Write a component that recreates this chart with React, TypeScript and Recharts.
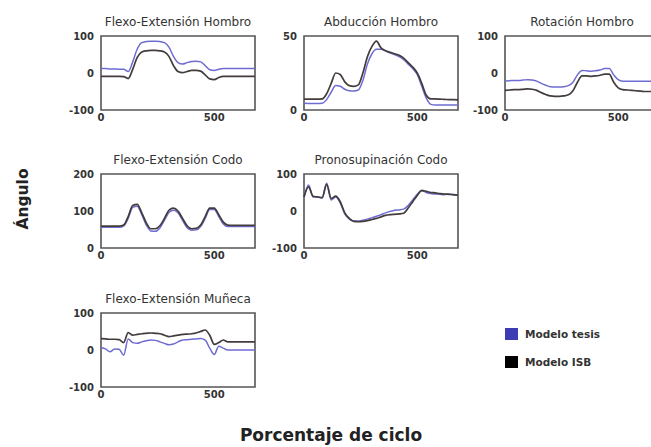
import { LineChart, Line, XAxis, YAxis, ReferenceArea } from 'recharts';

// percent-of-cycle samples shared by every panel
const cycle = [
  0, 20, 40, 60, 80, 100, 120, 140, 160, 180, 200, 220, 240, 260, 280, 300, 320, 340,
  360, 380, 400, 420, 440, 460, 480, 500, 520, 540, 560, 580, 600, 620, 640, 660, 680,
];
const xTicks = [0, 500];

const hombroFlexTesis = [12, 12, 11, 11, 10, 10, 4, 30, 65, 82, 85, 86, 86, 85, 82, 70, 45, 28, 24, 28, 31, 32, 30, 20, 9, 7, 10, 12, 12, 12, 12, 12, 12, 12, 12];
const hombroFlexIsb = [-9, -9, -9, -9, -9, -10, -15, 10, 42, 57, 60, 61, 61, 60, 57, 45, 20, 4, 1, 4, 7, 7, 5, -5, -16, -18, -12, -9, -9, -9, -9, -9, -9, -9, -9];

const abduccionTesis = [4.5, 4.4, 4.4, 4.4, 4.6, 7, 12, 16.5, 16, 14, 13, 12.8, 13.5, 20, 31, 38, 41, 41, 40, 38.5, 37.5, 36, 34, 31, 28, 24, 16, 8, 3.8, 3.4, 3.4, 3.3, 3.3, 3.3, 3.3];
const abduccionIsb = [7.3, 7.3, 7.3, 7.3, 7.5, 11, 18, 25, 24, 19, 16.5, 16, 17, 25, 36, 43, 46.5, 42, 40, 39, 38, 37, 35, 32, 29, 25, 18, 10, 7.5, 7.5, 7.3, 7.2, 7, 7, 6.8];

const rotacionTesis = [-22, -21, -20, -20, -19, -18, -19, -22, -28, -33, -37, -38, -38, -37, -34, -25, -5, 7, 6, 5, 6, 8, 12, 12, -5, -18, -22, -22, -22, -22, -22, -22, -22, -22, -22];
const rotacionIsb = [-47, -46, -45, -45, -44, -43, -44, -47, -53, -58, -62, -63, -63, -62, -59, -48, -25, -8, -8, -9, -8, -6, -3, -3, -25, -40, -45, -46, -47, -48, -49, -50, -50, -50, -50];

const codoFlexTesis = [56, 56, 56, 56, 56, 59, 80, 110, 113, 90, 62, 46, 45, 54, 75, 96, 102, 95, 75, 55, 48, 49, 58, 80, 104, 104, 85, 65, 58, 58, 58, 58, 58, 58, 58];
const codoFlexIsb = [59, 59, 59, 59, 59, 62, 85, 115, 118, 95, 68, 52, 52, 60, 80, 102, 108, 100, 80, 60, 52, 53, 62, 85, 108, 108, 90, 70, 62, 61, 61, 61, 61, 61, 61];

const pronoTesis = [36, 70, 38, 38, 35, 75, 30, 38, 22, -8, -22, -27, -27, -25, -22, -18, -14, -10, -5, -1, 2, 3, 5, 15, 30, 45, 55, 50, 47, 46, 45, 44, 46, 44, 42];
const pronoIsb = [38, 65, 40, 38, 36, 72, 34, 40, 25, -5, -20, -28, -29, -28, -26, -23, -20, -16, -12, -10, -9, -8, -6, 8, 25, 42, 56, 53, 50, 49, 47, 46, 45, 44, 43];

const munecaTesis = [7, 3, -5, 3, 2, -14, 30, 20, 18, 22, 25, 27, 26, 22, 18, 14, 16, 22, 27, 28, 29, 30, 31, 27, 5, -12, 10, 5, 0, 0, 0, 0, 0, 0, 0];
const munecaIsb = [31, 30, 29, 29, 28, 20, 47, 40, 42, 44, 45, 46, 45, 44, 40, 36, 38, 40, 42, 43, 44, 46, 50, 54, 40, 15, 20, 27, 22, 22, 22, 22, 22, 22, 22];

const BOX_W = 154;
const BOX_H = 74;
const PAD_L = 40;
const PAD_T = 24;
const FONT = '"DejaVu Sans", sans-serif';
const TESIS = '#6e6cd2';
const ISB = '#443c3c';

interface PanelProps {
  title: string;
  left: number;
  top: number;
  tesis: number[];
  isb: number[];
  yDomain: [number, number];
  yTicks: number[];
}

function Panel({ title, left, top, tesis, isb, yDomain, yTicks }: PanelProps) {
  const data = cycle.map((x, i) => ({ x, tesis: tesis[i], isb: isb[i] }));
  const tick = { fontSize: 10, fontWeight: 700, fill: '#333', fontFamily: FONT };
  return (
    <div style={{ position: 'absolute', left: left - PAD_L, top: top - PAD_T }}>
      <div
        style={{
          position: 'absolute', left: PAD_L, top: 2, width: BOX_W, textAlign: 'center',
          fontFamily: FONT, fontSize: 12, color: '#333', whiteSpace: 'nowrap', lineHeight: '16px',
        }}
      >
        {title}
      </div>
      <LineChart
        width={BOX_W + PAD_L + 10}
        height={BOX_H + PAD_T + 20}
        data={data}
        margin={{ top: PAD_T, right: 10, bottom: 0, left: 10 }}
      >
        <XAxis
          dataKey="x" type="number" domain={[0, 680]} ticks={xTicks} height={20}
          axisLine={false} tickLine={false} tickSize={0} tickMargin={4} tick={tick}
        />
        <YAxis
          type="number" domain={yDomain} ticks={yTicks} width={30} allowDataOverflow
          axisLine={false} tickLine={false} tickSize={0} tickMargin={7} tick={tick}
        />
        <ReferenceArea
          x1={0} x2={680} y1={yDomain[0]} y2={yDomain[1]}
          fill="none" stroke="#555" strokeWidth={1.6}
        />
        <Line type="monotone" dataKey="tesis" stroke={TESIS} strokeWidth={1.5} dot={false} isAnimationActive={false} />
        <Line type="monotone" dataKey="isb" stroke={ISB} strokeWidth={1.7} dot={false} isAnimationActive={false} />
      </LineChart>
    </div>
  );
}

export default function App() {
  return (
    <div
      style={{
        position: 'absolute', left: 0, top: 0, width: 651, height: 447,
        overflow: 'hidden', background: '#fff', fontFamily: FONT,
      }}
    >
      <Panel title="Flexo-Extensión Hombro" left={101} top={36} tesis={hombroFlexTesis} isb={hombroFlexIsb} yDomain={[-100, 100]} yTicks={[-100, 0, 100]} />
      <Panel title="Abducción Hombro" left={304} top={36} tesis={abduccionTesis} isb={abduccionIsb} yDomain={[0, 50]} yTicks={[0, 50]} />
      <Panel title="Rotación Hombro" left={505} top={36} tesis={rotacionTesis} isb={rotacionIsb} yDomain={[-100, 100]} yTicks={[-100, 0, 100]} />
      <Panel title="Flexo-Extensión Codo" left={101} top={174} tesis={codoFlexTesis} isb={codoFlexIsb} yDomain={[0, 200]} yTicks={[0, 100, 200]} />
      <Panel title="Pronosupinación Codo" left={304} top={174} tesis={pronoTesis} isb={pronoIsb} yDomain={[-100, 100]} yTicks={[-100, 0, 100]} />
      <Panel title="Flexo-Extensión Muñeca" left={101} top={313} tesis={munecaTesis} isb={munecaIsb} yDomain={[-100, 100]} yTicks={[-100, 0, 100]} />

      {/* legend */}
      <div style={{ position: 'absolute', left: 505, top: 328, width: 13, height: 12, background: '#3c3cb4' }} />
      <div style={{ position: 'absolute', left: 525, top: 327, fontSize: 10.5, fontWeight: 700, color: '#333', lineHeight: '14px' }}>
        Modelo tesis
      </div>
      <div style={{ position: 'absolute', left: 505, top: 356, width: 13, height: 12, background: '#000' }} />
      <div style={{ position: 'absolute', left: 525, top: 355, fontSize: 10.5, fontWeight: 700, color: '#333', lineHeight: '14px' }}>
        Modelo ISB
      </div>

      {/* axis titles */}
      <div
        style={{
          position: 'absolute', left: 23, top: 199, transform: 'translate(-50%, -50%) rotate(-90deg)',
          fontSize: 15.5, fontWeight: 700, color: '#222', whiteSpace: 'nowrap',
        }}
      >
        Ángulo
      </div>
      <div
        style={{
          position: 'absolute', left: 331, top: 435, transform: 'translate(-50%, -50%)',
          fontSize: 17, fontWeight: 700, color: '#222', whiteSpace: 'nowrap',
        }}
      >
        Porcentaje de ciclo
      </div>
    </div>
  );
}
